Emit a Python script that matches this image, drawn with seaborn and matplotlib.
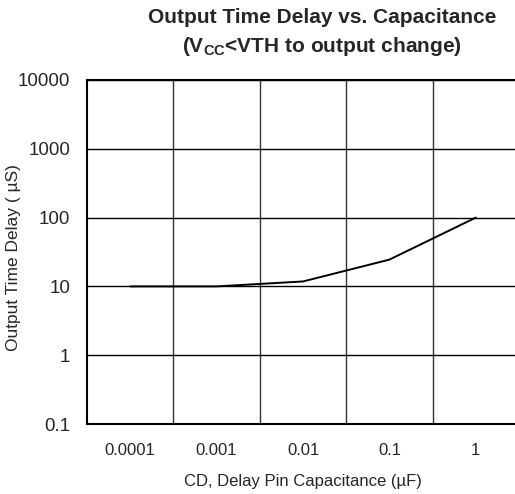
import numpy as np
import pandas as pd
import matplotlib
matplotlib.use("Agg")
import matplotlib.pyplot as plt
import seaborn as sns

# data
capacitance = [0.0001, 0.001, 0.01, 0.1, 1]
delay_us = [10, 10, 11.8, 24.5, 100]
x_labels = ["0.0001", "0.001", "0.01", "0.1", "1"]
y_ticks = [0.1, 1, 10, 100, 1000, 10000]
y_labels = ["0.1", "1", "10", "100", "1000", "10000"]

df = pd.DataFrame({"cap": capacitance, "delay": delay_us})

sns.set_style("white")
plt.rcParams['font.family'] = ['Liberation Sans', 'DejaVu Sans']

fig = plt.figure(figsize=(5.15, 4.94), dpi=100)
W, H = 515, 494
# plot area: left 87px, top 80px, bottom 424px, runs off the right edge
ax = fig.add_axes([87 / W, 1 - 424 / H, 432 / W, 344 / H])

sns.lineplot(data=df, x="cap", y="delay", ax=ax, color="black", lw=1.4)

ax.set_xscale("log")
ax.set_yscale("log")
ax.set_xlim(10 ** -4.5, 10 ** 0.5)
ax.set_ylim(0.1, 10000)

ax.set_xticks(capacitance)
ax.set_xticklabels(x_labels)
ax.set_xticks([10 ** v for v in (-3.5, -2.5, -1.5, -0.5)], minor=True)
ax.set_yticks(y_ticks)
ax.set_yticklabels(y_labels)
ax.yaxis.set_minor_locator(matplotlib.ticker.NullLocator())

ax.tick_params(axis="both", which="both", length=0)
ax.tick_params(axis="x", pad=14, labelsize=12)
ax.tick_params(axis="y", pad=12, labelsize=13.5)

ax.grid(False)
ax.xaxis.grid(True, which="minor", color="#333333", lw=1)
ax.yaxis.grid(True, which="major", color="black", lw=1)

for s in ["left", "bottom", "top"]:
    ax.spines[s].set_color("black")
    ax.spines[s].set_linewidth(1.5)
ax.spines["right"].set_visible(False)

ax.set_xlabel("CD, Delay Pin Capacitance (\u00b5F)", fontsize=12, labelpad=11)
ax.set_ylabel("")
fig.text(14 / W, 1 - 258 / H, "Output Time Delay ( \u00b5S)", rotation=90,
         ha="center", va="center", fontsize=12.5)

fig.text(322 / W, 1 - 33 / H, "Output Time Delay vs. Capacitance\n(V$_{\\mathregular{CC}}$<VTH to output change)",
         ha="center", va="center", fontsize=15, fontweight="bold", linespacing=1.5)

fig.savefig("out.png", dpi=100)
